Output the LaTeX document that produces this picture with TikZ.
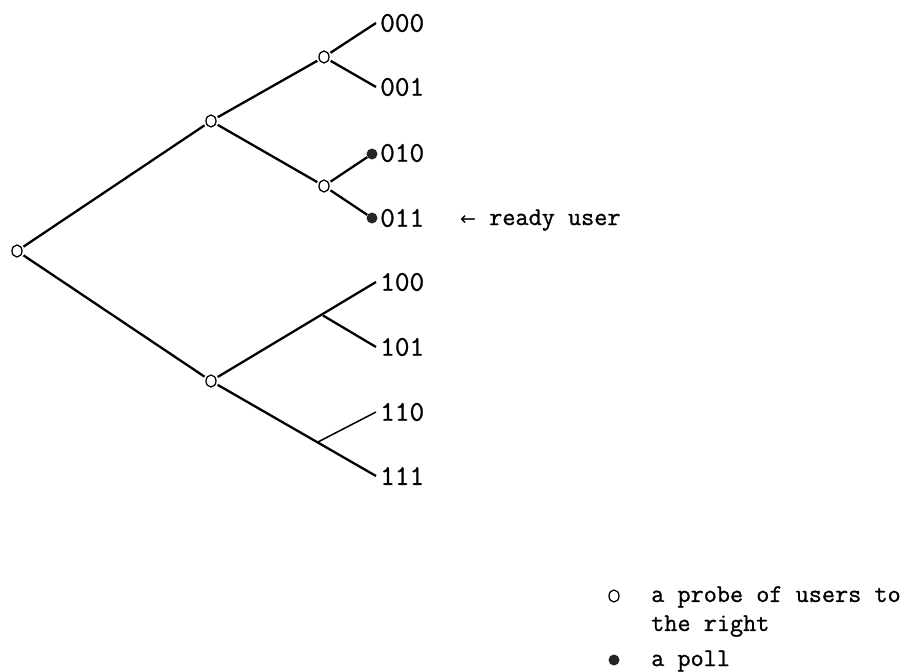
\documentclass[tikz,border=0pt]{standalone}
\usepackage{fontspec}
\setmonofont[FakeBold=0.9]{Latin Modern Mono}
\newfontfamily\arrowfont{DejaVu Sans}
\usetikzlibrary{shapes.geometric}
\begin{document}
\begin{tikzpicture}[x=1pt,y=-1pt,
  probe/.style={draw,line width=1.3pt,ellipse,minimum width=10pt,minimum height=12pt,inner sep=0pt,outer sep=2.5pt},
  pollnode/.style={circle,fill=black!85,minimum size=11pt,inner sep=0pt},
  branch/.style={line width=2.3pt},
  thinbranch/.style={line width=1.5pt},
  leaf/.style={anchor=west,inner xsep=4pt,inner ysep=0pt,font=\ttfamily\fontsize{28.5}{32}\selectfont},
  legendtext/.style={inner sep=0pt,align=left,font=\ttfamily\fontsize{25.5}{29}\selectfont}]
\useasboundingbox (0,0) rectangle (905,672);
% probe nodes
\node[probe] (r)  at (17,251) {};
\node[probe] (a)  at (211,121) {};
\node[probe] (b)  at (211,381) {};
\node[probe] (aa) at (324,57) {};
\node[probe] (ab) at (324,186) {};
% leaf labels
\node[leaf] (l000) at (376,23) {000};
\node[leaf] (l001) at (376,87) {001};
\node[leaf] (l010) at (376,153) {010};
\node[leaf] (l011) at (376,218) {011};
\node[leaf] (l100) at (376,282) {100};
\node[leaf] (l101) at (376,347) {101};
\node[leaf] (l110) at (376,412) {110};
\node[leaf] (l111) at (376,476) {111};
% polled users
\node[pollnode] (p010) at (372,154) {};
\node[pollnode] (p011) at (372,218) {};
% unprobed branch points
\coordinate (ba) at (323,315.5);
\coordinate (bb) at (317,442.5);
% edges
\draw[branch] (r) -- (a);
\draw[branch] (r) -- (b);
\draw[branch] (a) -- (aa);
\draw[branch] (a) -- (ab);
\draw[branch] (aa) -- (l000.west);
\draw[branch] (aa) -- (l001.west);
\draw[branch] (ab) -- (p010);
\draw[branch] (ab) -- (p011);
\draw[branch] (b) -- (l100.west);
\draw[branch] (ba) -- (l101.west);
\draw[branch] (b) -- (l111.west);
\draw[thinbranch] (bb) -- (l110.west);
% ready user note
\node[anchor=base west,inner sep=0pt,font=\ttfamily\fontsize{25.5}{30}\selectfont] (ready) at (460,225) {{\arrowfont\fontsize{19}{22}\selectfont ←}\ ready user};
% legend
\node[probe] (keyprobe) at (614,596) {};
\node[legendtext,anchor=north west] (keyprobetext) at (651,586) {a probe of users to\\the right};
\node[pollnode] (keypoll) at (614,660) {};
\node[legendtext,anchor=base west] (keypolltext) at (651,666) {a poll};
\end{tikzpicture}
\end{document}
